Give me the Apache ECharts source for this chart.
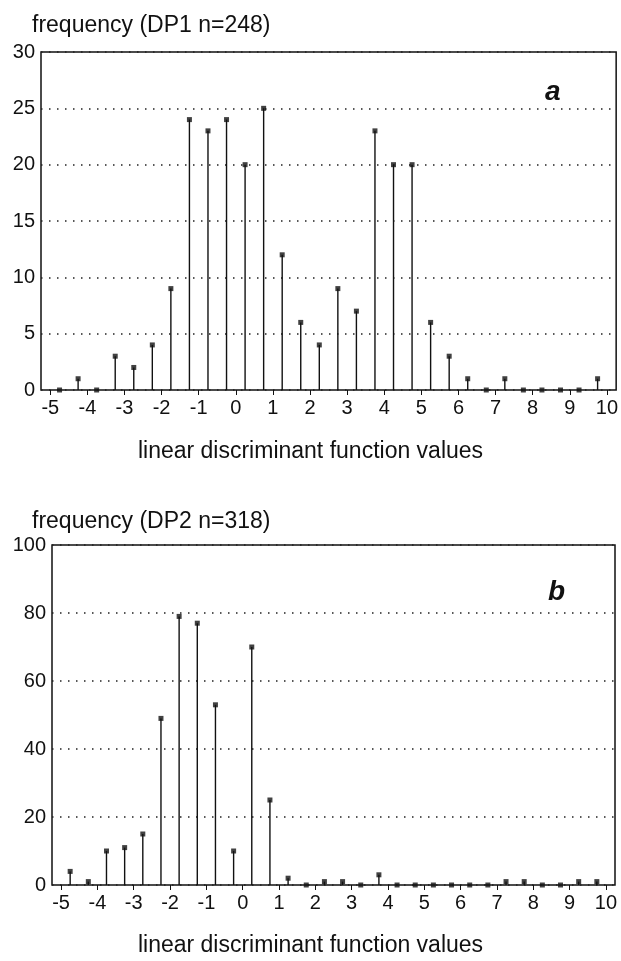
<!DOCTYPE html>
<html>
<head>
<meta charset="utf-8">
<script src="https://cdn.jsdelivr.net/npm/echarts@6/dist/echarts.min.js"></script>
<style>
  html, body { margin: 0; padding: 0; background: #fff; }
  #main { width: 621px; height: 961px; }
</style>
</head>
<body>
<div id="main"></div>
<script>
// bin centres of the linear discriminant function values (bins 0.5 wide)
var binCenters = [-4.75, -4.25, -3.75, -3.25, -2.75, -2.25, -1.75, -1.25, -0.75, -0.25,
                  0.25, 0.75, 1.25, 1.75, 2.25, 2.75, 3.25, 3.75, 4.25, 4.75,
                  5.25, 5.75, 6.25, 6.75, 7.25, 7.75, 8.25, 8.75, 9.25, 9.75];
// frequencies, panel a (DP1) and panel b (DP2)
var dp1Counts = [0, 1, 0, 3, 2, 4, 9, 24, 23, 24,
                 20, 25, 12, 6, 4, 9, 7, 23, 20, 20,
                 6, 3, 1, 0, 1, 0, 0, 0, 0, 1];
var dp2Counts = [4, 1, 10, 11, 15, 49, 79, 77, 53, 10,
                 70, 25, 2, 0, 1, 1, 0, 3, 0, 0,
                 0, 0, 0, 0, 1, 1, 0, 0, 1, 1];
var xTicks = [-5, -4, -3, -2, -1, 0, 1, 2, 3, 4, 5, 6, 7, 8, 9, 10];

var font = 'Liberation Sans, Arial, Helvetica, sans-serif';
var ink = '#111';

function pairs(counts) {
    return binCenters.map(function (x, i) { return [x, counts[i]]; });
}

function xAxisFor(idx) {
    return {
        gridIndex: idx, type: 'value', min: -5.25, max: 10.25,
        axisLine: { show: false },
        axisTick: { show: true, customValues: xTicks, length: 5, lineStyle: { color: ink, width: 1 } },
        axisLabel: { customValues: xTicks, fontSize: 20, color: ink, fontFamily: font, margin: 8 },
        splitLine: { show: false }
    };
}

function yAxisFor(idx, max, step) {
    return {
        gridIndex: idx, type: 'value', min: 0, max: max, interval: step,
        axisLine: { show: false },
        axisTick: { show: false },
        axisLabel: { fontSize: 20, color: ink, fontFamily: font, margin: 6 },
        splitLine: { show: true, lineStyle: { color: '#222', width: 1.5, type: [1.5, 6.5] } }
    };
}

function stems(idx, counts) {
    return [{
        type: 'bar', xAxisIndex: idx, yAxisIndex: idx,
        data: pairs(counts), barWidth: 1.4,
        itemStyle: { color: ink }, silent: true
    }, {
        type: 'scatter', xAxisIndex: idx, yAxisIndex: idx,
        data: pairs(counts), symbol: 'rect', symbolSize: [5, 5],
        itemStyle: { color: ink }, silent: true, z: 3
    }];
}

var chart = echarts.init(document.getElementById('main'));
var titleStyle = { fontSize: 23, fontWeight: 'normal', color: ink, fontFamily: font };
var tagStyle = { fontSize: 28, fontWeight: 'bold', fontStyle: 'italic', color: ink, fontFamily: font };

var option = {
    animation: false,
    backgroundColor: '#fff',
    title: [
        { text: 'frequency (DP1 n=248)', left: 32, top: 14, padding: 0, textStyle: titleStyle },
        { text: 'linear discriminant function values', left: 'center', top: 440, padding: 0, textStyle: titleStyle },
        { text: 'frequency (DP2 n=318)', left: 32, top: 510, padding: 0, textStyle: titleStyle },
        { text: 'linear discriminant function values', left: 'center', top: 934, padding: 0, textStyle: titleStyle },
        { text: 'a', left: 545, top: 78, padding: 0, textStyle: tagStyle },
        { text: 'b', left: 548, top: 578, padding: 0, textStyle: tagStyle }
    ],
    grid: [
        { left: 41, top: 52, width: 576, height: 338, show: true, borderColor: ink, borderWidth: 1.5 },
        { left: 52, top: 545, width: 563, height: 340, show: true, borderColor: ink, borderWidth: 1.5 }
    ],
    xAxis: [xAxisFor(0), xAxisFor(1)],
    yAxis: [yAxisFor(0, 30, 5), yAxisFor(1, 100, 20)],
    series: stems(0, dp1Counts).concat(stems(1, dp2Counts))
};
chart.setOption(option);
</script>
</body>
</html>
